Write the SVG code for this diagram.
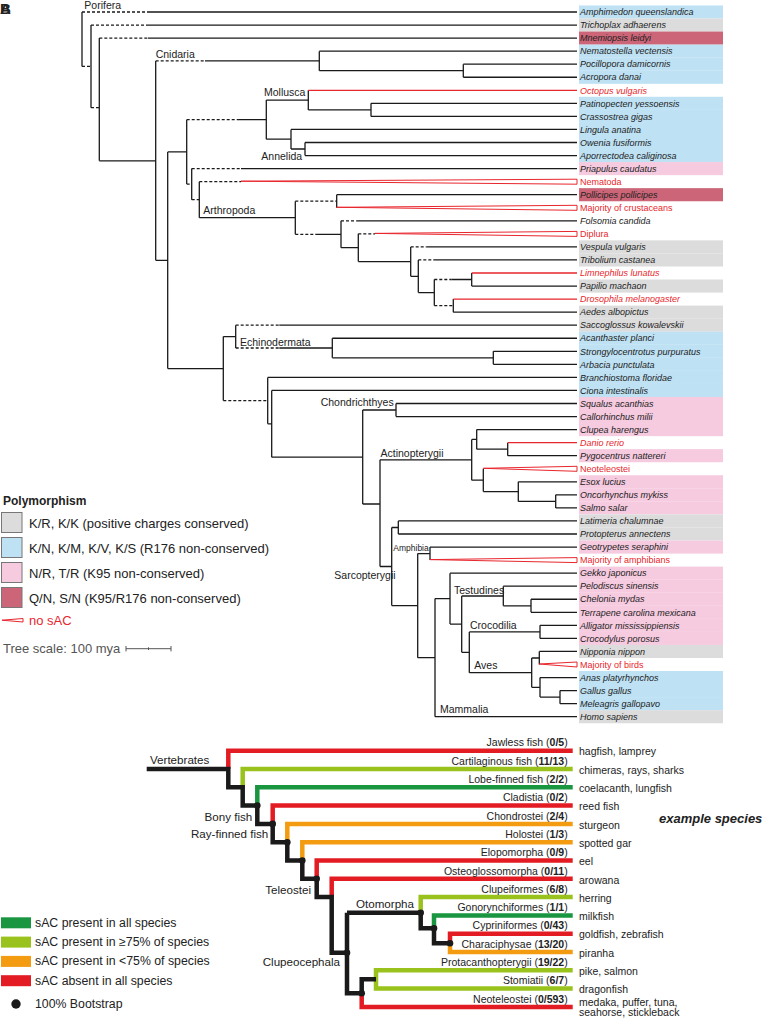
<svg xmlns="http://www.w3.org/2000/svg" width="764" height="1019" viewBox="0 0 764 1019">
<style>
text{font-family:"Liberation Sans",Arial,sans-serif;fill:#222}
.b{fill:none;stroke:#1a1a1a;stroke-width:1.3}
.d{fill:none;stroke:#1a1a1a;stroke-width:1.3;stroke-dasharray:3 2}
.r{fill:none;stroke:#e8262d;stroke-width:1.3}
.w{fill:#fff;stroke:#e8262d;stroke-width:1}
.lf{font-size:9px;font-style:italic}
.lu{font-size:9px}
.red{fill:#e8262d}
.cl{font-size:10.5px}
.gy{fill:#dcdcdc}.bl{fill:#bee1f4}.pk{fill:#f6cadf}.ro{fill:#cb6577}
.sw{stroke:#777;stroke-width:1}
.lg{font-size:13px}
.k{fill:none;stroke:#1a1a1a;stroke-width:4.5}
.cr{fill:none;stroke:#e31b23;stroke-width:4.5}
.cg{fill:none;stroke:#99c31c;stroke-width:4.5}
.cG{fill:none;stroke:#1a9640;stroke-width:4.5}
.co{fill:none;stroke:#f39c12;stroke-width:4.5}
.bn{font-size:11.6px}
.bt{font-size:10.5px}
.bl2{font-size:12.3px}
</style>
<g id="panel-label"><text x="0" y="14" font-size="15" font-weight="bold">A</text><text x="0" y="14" font-size="15" font-weight="bold">B</text></g>

<g id="leaves">
<g id="l0"><rect class="bl" x="579" y="5.45" width="144" height="13.1"/><text class="lf" x="580" y="15.2">Amphimedon queenslandica</text></g>
<g id="l1"><rect class="gy" x="579" y="18.5" width="144" height="13.1"/><text class="lf" x="580" y="28.25">Trichoplax adhaerens</text></g>
<g id="l2"><rect class="ro" x="579" y="31.55" width="144" height="13.1"/><text class="lf" x="580" y="41.3">Mnemiopsis leidyi</text></g>
<g id="l3"><rect class="bl" x="579" y="44.6" width="144" height="13.1"/><text class="lf" x="580" y="54.35">Nematostella vectensis</text></g>
<g id="l4"><rect class="bl" x="579" y="57.65" width="144" height="13.1"/><text class="lf" x="580" y="67.4">Pocillopora damicornis</text></g>
<g id="l5"><rect class="bl" x="579" y="70.7" width="144" height="13.1"/><text class="lf" x="580" y="80.45">Acropora danai</text></g>
<g id="l6"><text class="lf red" x="580" y="93.5">Octopus vulgaris</text></g>
<g id="l7"><rect class="bl" x="579" y="96.8" width="144" height="13.1"/><text class="lf" x="580" y="106.55">Patinopecten yessoensis</text></g>
<g id="l8"><rect class="bl" x="579" y="109.85" width="144" height="13.1"/><text class="lf" x="580" y="119.6">Crassostrea gigas</text></g>
<g id="l9"><rect class="bl" x="579" y="122.9" width="144" height="13.1"/><text class="lf" x="580" y="132.65">Lingula anatina</text></g>
<g id="l10"><rect class="bl" x="579" y="135.95" width="144" height="13.1"/><text class="lf" x="580" y="145.7">Owenia fusiformis</text></g>
<g id="l11"><rect class="bl" x="579" y="149" width="144" height="13.1"/><text class="lf" x="580" y="158.75">Aporrectodea caliginosa</text></g>
<g id="l12"><rect class="pk" x="579" y="162.05" width="144" height="13.1"/><text class="lf" x="580" y="171.8">Priapulus caudatus</text></g>
<g id="l13"><text class="lu red" x="580" y="184.85">Nematoda</text></g>
<g id="l14"><rect class="ro" x="579" y="188.15" width="144" height="13.1"/><text class="lf" x="580" y="197.9">Pollicipes pollicipes</text></g>
<g id="l15"><text class="lu red" x="580" y="210.95">Majority of crustaceans</text></g>
<g id="l16"><text class="lf" x="580" y="224">Folsomia candida</text></g>
<g id="l17"><text class="lu red" x="580" y="237.05">Diplura</text></g>
<g id="l18"><rect class="gy" x="579" y="240.35" width="144" height="13.1"/><text class="lf" x="580" y="250.1">Vespula vulgaris</text></g>
<g id="l19"><rect class="gy" x="579" y="253.4" width="144" height="13.1"/><text class="lf" x="580" y="263.15">Tribolium castanea</text></g>
<g id="l20"><text class="lf red" x="580" y="276.2">Limnephilus lunatus</text></g>
<g id="l21"><rect class="gy" x="579" y="279.5" width="144" height="13.1"/><text class="lf" x="580" y="289.25">Papilio machaon</text></g>
<g id="l22"><text class="lf red" x="580" y="302.3">Drosophila melanogaster</text></g>
<g id="l23"><rect class="gy" x="579" y="305.6" width="144" height="13.1"/><text class="lf" x="580" y="315.35">Aedes albopictus</text></g>
<g id="l24"><rect class="gy" x="579" y="318.65" width="144" height="13.1"/><text class="lf" x="580" y="328.4">Saccoglossus kowalevskii</text></g>
<g id="l25"><rect class="bl" x="579" y="331.7" width="144" height="13.1"/><text class="lf" x="580" y="341.45">Acanthaster planci</text></g>
<g id="l26"><rect class="bl" x="579" y="344.75" width="144" height="13.1"/><text class="lf" x="580" y="354.5">Strongylocentrotus purpuratus</text></g>
<g id="l27"><rect class="bl" x="579" y="357.8" width="144" height="13.1"/><text class="lf" x="580" y="367.55">Arbacia punctulata</text></g>
<g id="l28"><rect class="bl" x="579" y="370.85" width="144" height="13.1"/><text class="lf" x="580" y="380.6">Branchiostoma floridae</text></g>
<g id="l29"><rect class="bl" x="579" y="383.9" width="144" height="13.1"/><text class="lf" x="580" y="393.65">Ciona intestinalis</text></g>
<g id="l30"><rect class="pk" x="579" y="396.95" width="144" height="13.1"/><text class="lf" x="580" y="406.7">Squalus acanthias</text></g>
<g id="l31"><rect class="pk" x="579" y="410" width="144" height="13.1"/><text class="lf" x="580" y="419.75">Callorhinchus milii</text></g>
<g id="l32"><rect class="pk" x="579" y="423.05" width="144" height="13.1"/><text class="lf" x="580" y="432.8">Clupea harengus</text></g>
<g id="l33"><text class="lf red" x="580" y="445.85">Danio rerio</text></g>
<g id="l34"><rect class="pk" x="579" y="449.15" width="144" height="13.1"/><text class="lf" x="580" y="458.9">Pygocentrus nattereri</text></g>
<g id="l35"><text class="lu red" x="580" y="471.95">Neoteleostei</text></g>
<g id="l36"><rect class="pk" x="579" y="475.25" width="144" height="13.1"/><text class="lf" x="580" y="485">Esox lucius</text></g>
<g id="l37"><rect class="pk" x="579" y="488.3" width="144" height="13.1"/><text class="lf" x="580" y="498.05">Oncorhynchus mykiss</text></g>
<g id="l38"><rect class="pk" x="579" y="501.35" width="144" height="13.1"/><text class="lf" x="580" y="511.1">Salmo salar</text></g>
<g id="l39"><rect class="gy" x="579" y="514.4" width="144" height="13.1"/><text class="lf" x="580" y="524.15">Latimeria chalumnae</text></g>
<g id="l40"><rect class="gy" x="579" y="527.45" width="144" height="13.1"/><text class="lf" x="580" y="537.2">Protopterus annectens</text></g>
<g id="l41"><rect class="pk" x="579" y="540.5" width="144" height="13.1"/><text class="lf" x="580" y="550.25">Geotrypetes seraphini</text></g>
<g id="l42"><text class="lu red" x="580" y="563.3">Majority of amphibians</text></g>
<g id="l43"><rect class="pk" x="579" y="566.6" width="144" height="13.1"/><text class="lf" x="580" y="576.35">Gekko japonicus</text></g>
<g id="l44"><rect class="pk" x="579" y="579.65" width="144" height="13.1"/><text class="lf" x="580" y="589.4">Pelodiscus sinensis</text></g>
<g id="l45"><rect class="pk" x="579" y="592.7" width="144" height="13.1"/><text class="lf" x="580" y="602.45">Chelonia mydas</text></g>
<g id="l46"><rect class="pk" x="579" y="605.75" width="144" height="13.1"/><text class="lf" x="580" y="615.5">Terrapene carolina mexicana</text></g>
<g id="l47"><rect class="pk" x="579" y="618.8" width="144" height="13.1"/><text class="lf" x="580" y="628.55">Alligator mississippiensis</text></g>
<g id="l48"><rect class="pk" x="579" y="631.85" width="144" height="13.1"/><text class="lf" x="580" y="641.6">Crocodylus porosus</text></g>
<g id="l49"><rect class="gy" x="579" y="644.9" width="144" height="13.1"/><text class="lf" x="580" y="654.65">Nipponia nippon</text></g>
<g id="l50"><text class="lu red" x="580" y="667.7">Majority of birds</text></g>
<g id="l51"><rect class="bl" x="579" y="671" width="144" height="13.1"/><text class="lf" x="580" y="680.75">Anas platyrhynchos</text></g>
<g id="l52"><rect class="bl" x="579" y="684.05" width="144" height="13.1"/><text class="lf" x="580" y="693.8">Gallus gallus</text></g>
<g id="l53"><rect class="bl" x="579" y="697.1" width="144" height="13.1"/><text class="lf" x="580" y="706.85">Meleagris gallopavo</text></g>
<g id="l54"><rect class="gy" x="579" y="710.15" width="144" height="13.1"/><text class="lf" x="580" y="719.9">Homo sapiens</text></g>
</g>

<g id="tree-connectors">
<path class="b" d="M82 12V66.4M91 25.05V107.7M99.3 38.1V160.8M155.7 60.9V260.3M319.3 51.15V70.7M463.3 64.2V77.25M167.7 151.9V368.6M186.7 119.7V184.1M266.3 100.1V139.2M308.3 90.3V109.9M371 103.35V116.4M291 129.45V149M305 142.5V155.55M191.7 168.6V199.7M199.3 181.65V217.7M295.3 201.2V234.3M336.7 194.7V207.75M341 220.8V247.7M358.3 233.85V261.6M410.7 246.9V276.3M418.3 259.95V292.6M434.3 279.5V305.6M471.7 273V286.05M453.3 299.1V312.15M223.3 336.6V400.6M235.7 325.2V348M332.3 338.25V357.8M493.3 351.3V364.35M267.7 377.4V423.8M271.7 390.45V457.2M362.7 410V504M396 403.5V416.55M380 459.8V566.5M471.7 439.4V480.2M476.7 429.6V449.2M507.7 442.65V455.7M483.3 468.75V491.6M518.3 481.8V501.4M555.7 494.85V507.9M391.7 527.5V605.6M398.3 520.95V534M417.7 553.6V657.7M430 547.05V560.1M435 598.6V716.7M450 573.15V624.1M461.7 596V652.3M503.3 586.2V605.8M531 599.25V612.3M469.3 631.9V672.7M540 625.35V638.4M531.7 658V687.3M539.3 651.45V664.5M540 677.55V697.1M560 690.6V703.65"/>
<path class="b" d="M147 12H577M147 25.05H577M148 38.1H577M319.3 51.15H577M205 60.9H319.3M463.3 64.2H577M463.3 77.25H577M319.3 70.7H463.3M99.3 160.8H155.7M155.7 260.3H167.7M167.7 151.9H186.7M237 119.7H266.3M266.3 100.1H308.3M308.3 109.9H371M371 103.35H577M371 116.4H577M266.3 139.2H291M291 129.45H577M291 149H305M305 142.5H577M305 155.55H577M241 168.6H577M199.3 217.7H295.3M336.7 194.7H577M318 234.3H341M356.7 220.8H577M341 247.7H358.3M358.3 261.6H410.7M426.7 246.9H577M410.7 276.3H418.3M435 259.95H577M418.3 292.6H434.3M451.7 279.5H471.7M471.7 286.05H577M453.3 312.15H577M167.7 368.6H223.3M223.3 336.6H235.7M279.3 325.2H577M279.3 348H332.3M332.3 338.25H577M332.3 357.8H493.3M493.3 351.3H577M493.3 364.35H577M267.7 377.4H577M267.7 423.8H271.7M271.7 390.45H577M271.7 457.2H362.7M362.7 410H396M396 403.5H577M396 416.55H577M362.7 504H380M380 459.8H471.7M471.7 439.4H476.7M476.7 429.6H577M476.7 449.2H507.7M507.7 455.7H577M471.7 480.2H483.3M483.3 491.6H518.3M518.3 481.8H577M518.3 501.4H555.7M555.7 494.85H577M555.7 507.9H577M380 566.5H391.7M391.7 527.5H398.3M398.3 520.95H577M398.3 534H577M391.7 605.6H417.7M417.7 553.6H430M430 547.05H577M417.7 657.7H435M435 598.6H450M435 716.7H577M450 573.15H577M450 624.1H461.7M461.7 596H503.3M503.3 586.2H577M503.3 605.8H531M531 599.25H577M531 612.3H577M461.7 652.3H469.3M469.3 631.9H540M540 625.35H577M540 638.4H577M469.3 672.7H531.7M531.7 658H539.3M539.3 651.45H577M531.7 687.3H540M540 677.55H577M540 697.1H560M560 690.6H577M560 703.65H577"/>
<path class="d" d="M82 12H147M82 66.4H91M91 25.05H147M91 107.7H99.3M99.3 38.1H148M155.7 60.9H205M186.7 119.7H237M186.7 184.1H191.7M191.7 168.6H241M191.7 199.7H199.3M199.3 181.65H241M295.3 201.2H336.7M295.3 234.3H318M341 220.8H356.7M358.3 233.85H375M410.7 246.9H426.7M418.3 259.95H435M434.3 279.5H451.7M434.3 305.6H453.3M235.7 325.2H279.3M235.7 348H279.3M223.3 400.6H267.7"/>
<path class="r" d="M308.3 90.3H577M471.7 273H577M453.3 299.1H577M507.7 442.65H577"/>
<polygon class="w" points="241,181.2 577,179.2 577,184.2"/>
<polygon class="w" points="336.7,207.3 577,205.3 577,210.3"/>
<polygon class="w" points="375,233.4 577,231.4 577,236.4"/>
<polygon class="w" points="483.3,468.3 577,466.3 577,471.3"/>
<polygon class="w" points="430,559.6 577,557.6 577,562.6"/>
<polygon class="w" points="539.3,664 577,662 577,667"/>
</g>

<g id="clade-labels">
<text class="cl" x="84.3" y="8.7">Porifera</text>
<text class="cl" x="155.7" y="57.5">Cnidaria</text>
<text class="cl" x="264" y="96">Mollusca</text>
<text class="cl" x="261.3" y="159.5">Annelida</text>
<text class="cl" x="203.3" y="213.5">Arthropoda</text>
<text class="cl" x="240" y="345.8">Echinodermata</text>
<text class="cl" x="320.7" y="406.2">Chondrichthyes</text>
<text class="cl" x="380.5" y="456.5">Actinopterygii</text>
<text x="393.3" y="550.7" font-size="8.5">Amphibia</text>
<text class="cl" x="334.3" y="579.2">Sarcopterygii</text>
<text class="cl" x="454" y="593.5">Testudines</text>
<text class="cl" x="470" y="628.5">Crocodilia</text>
<text class="cl" x="474.3" y="668.5">Aves</text>
<text class="cl" x="440" y="712.5">Mammalia</text>
</g>

<g id="legend-top">
<text x="3" y="505" font-size="12" font-weight="bold">Polymorphism</text>
<rect class="gy sw" x="1.5" y="512.5" width="20.5" height="20"/>
<text class="lg" x="29" y="527.5">K/R, K/K (positive charges conserved)</text>
<rect class="bl sw" x="1.5" y="537.5" width="20.5" height="20"/>
<text class="lg" x="29" y="552.5">K/N, K/M, K/V, K/S (R176 non-conserved)</text>
<rect class="pk sw" x="1.5" y="562.5" width="20.5" height="20"/>
<text class="lg" x="29" y="577.5">N/R, T/R (K95 non-conserved)</text>
<rect class="ro sw" x="1.5" y="587.5" width="20.5" height="20"/>
<text class="lg" x="29" y="602.5">Q/N, S/N (K95/R176 non-conserved)</text>
<polygon class="w" points="2,620.2 23,618.5 23,622"/>
<text class="lg red" x="29" y="624.5">no sAC</text>
<text class="lg" x="3" y="652.5" style="fill:#555">Tree scale: 100 mya</text>
<path d="M126 648.7H171M126 646V651.4M171 646V651.4M148.5 647.3V650" fill="none" stroke="#555" stroke-width="1"/>
</g>

<g id="fish-connectors">
<path class="cr" d="M228.3 769V750.7H572.7M272.7 823.9V805.6H572.7M316.7 878.8V860.5H572.7M331.7 897.1V878.8H572.7M450 943.3V933.7H572.7M361.7 993.3V1006.9H572.7"/>
<path class="cg" d="M242.7 787.3V769H572.7M420.7 912.7V897.1H572.7M376 979.3V970.3H572.7M376 979.3V988.6H572.7"/>
<path class="cG" d="M257.3 805.6V787.3H572.7M434 928.3V915.4H572.7"/>
<path class="co" d="M287.3 842.2V823.9H572.7M302.3 860.5V842.2H572.7M450 943.3V952H572.7"/>
<path class="k" d="M146.7 769H228.3V787.3H242.7V805.6H257.3V823.9H272.7V842.2H287.3V860.5H302.3V878.8H316.7V897.1H331.7V952.7H347M347 912.7V993.3H361.7V979.3H376M347 912.7H420.7V928.3H434V943.3H450"/>
<g fill="#1a1a1a">
<circle cx="257.3" cy="805.6" r="3.3"/><circle cx="272.7" cy="823.9" r="3.3"/><circle cx="287.3" cy="842.2" r="3.3"/><circle cx="302.3" cy="860.5" r="3.3"/><circle cx="316.7" cy="878.8" r="3.3"/><circle cx="347" cy="952.7" r="3.3"/><circle cx="420.7" cy="912.7" r="3.3"/><circle cx="434" cy="928.3" r="3.3"/><circle cx="450" cy="943.3" r="3.3"/><circle cx="361.7" cy="993.3" r="3.3"/>
</g>
</g>

<g id="fish-node-labels">
<text class="bn" x="150" y="764">Vertebrates</text>
<text class="bn" x="252.3" y="820.7" text-anchor="end">Bony fish</text>
<text class="bn" x="268.3" y="838" text-anchor="end">Ray-finned fish</text>
<text class="bn" x="311" y="894" text-anchor="end">Teleostei</text>
<text class="bn" x="356" y="908">Otomorpha</text>
<text class="bn" x="262.7" y="966.3">Clupeocephala</text>
</g>

<g id="fish-leaves" class="bt">
<text class="bt" x="567.7" y="746.4" text-anchor="end">Jawless fish (<tspan font-weight="bold">0/5</tspan>)</text>
<text class="bt" x="567.7" y="764.7" text-anchor="end">Cartilaginous fish (<tspan font-weight="bold">11/13</tspan>)</text>
<text class="bt" x="567.7" y="783" text-anchor="end">Lobe-finned fish (<tspan font-weight="bold">2/2</tspan>)</text>
<text class="bt" x="567.7" y="801.3" text-anchor="end">Cladistia (<tspan font-weight="bold">0/2</tspan>)</text>
<text class="bt" x="567.7" y="819.6" text-anchor="end">Chondrostei (<tspan font-weight="bold">2/4</tspan>)</text>
<text class="bt" x="567.7" y="837.9" text-anchor="end">Holostei (<tspan font-weight="bold">1/3</tspan>)</text>
<text class="bt" x="567.7" y="856.2" text-anchor="end">Elopomorpha (<tspan font-weight="bold">0/9</tspan>)</text>
<text class="bt" x="567.7" y="874.5" text-anchor="end">Osteoglossomorpha (<tspan font-weight="bold">0/11</tspan>)</text>
<text class="bt" x="567.7" y="892.8" text-anchor="end">Clupeiformes (<tspan font-weight="bold">6/8</tspan>)</text>
<text class="bt" x="567.7" y="911.1" text-anchor="end">Gonorynchiformes (<tspan font-weight="bold">1/1</tspan>)</text>
<text class="bt" x="567.7" y="929.4" text-anchor="end">Cypriniformes (<tspan font-weight="bold">0/43</tspan>)</text>
<text class="bt" x="567.7" y="947.7" text-anchor="end">Characiphysae (<tspan font-weight="bold">13/20</tspan>)</text>
<text class="bt" x="567.7" y="966" text-anchor="end">Protacanthopterygii (<tspan font-weight="bold">19/22</tspan>)</text>
<text class="bt" x="567.7" y="984.3" text-anchor="end">Stomiatii (<tspan font-weight="bold">6/7</tspan>)</text>
<text class="bt" x="567.7" y="1002.6" text-anchor="end">Neoteleostei (<tspan font-weight="bold">0/593</tspan>)</text>
</g>

<g id="example-species">
<text x="659" y="822.5" font-size="13" font-weight="bold" font-style="italic">example species</text>
<text class="bt" x="579" y="755.4">hagfish, lamprey</text>
<text class="bt" x="579" y="773.7">chimeras, rays, sharks</text>
<text class="bt" x="579" y="792">coelacanth, lungfish</text>
<text class="bt" x="579" y="810.3">reed fish</text>
<text class="bt" x="579" y="828.6">sturgeon</text>
<text class="bt" x="579" y="846.9">spotted gar</text>
<text class="bt" x="579" y="865.2">eel</text>
<text class="bt" x="579" y="883.5">arowana</text>
<text class="bt" x="579" y="901.8">herring</text>
<text class="bt" x="579" y="920.1">milkfish</text>
<text class="bt" x="579" y="938.4">goldfish, zebrafish</text>
<text class="bt" x="579" y="956.7">piranha</text>
<text class="bt" x="579" y="975">pike, salmon</text>
<text class="bt" x="579" y="993.3">dragonfish</text>
<text class="bt" x="579" y="1006.4">medaka, puffer, tuna,</text>
<text class="bt" x="579" y="1016.4">seahorse, stickleback</text>
</g>

<g id="legend-bottom">
<rect x="1" y="917.3" width="30" height="11" fill="#1a9640"/>
<text class="bl2" x="35" y="926.6">sAC present in all species</text>
<rect x="1" y="936.6" width="30" height="11" fill="#99c31c"/>
<text class="bl2" x="35" y="945.9">sAC present in ≥75% of species</text>
<rect x="1" y="955.9" width="30" height="11" fill="#f39c12"/>
<text class="bl2" x="35" y="965.2">sAC present in &lt;75% of species</text>
<rect x="1" y="975.2" width="30" height="11" fill="#e31b23"/>
<text class="bl2" x="35" y="984.5">sAC absent in all species</text>
<circle cx="16" cy="1004" r="4.7" fill="#1a1a1a"/>
<text class="bl2" x="35" y="1008.4">100% Bootstrap</text>
</g>
</svg>
